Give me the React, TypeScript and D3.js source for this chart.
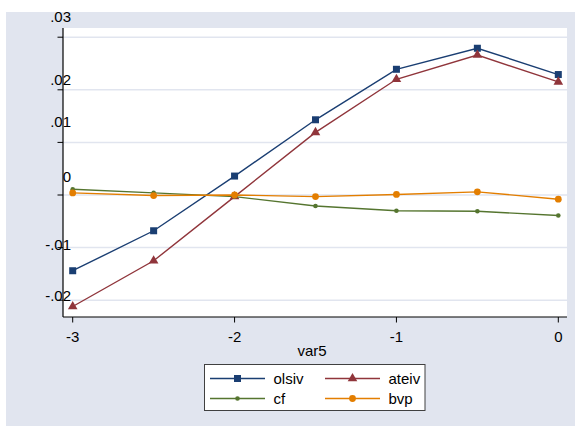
import React from "react";
import * as d3 from "d3";

// x values (var5)
const xs = [-3, -2.5, -2, -1.5, -1, -0.5, 0];

// series values
const olsiv = [-0.0144, -0.0068, 0.0036, 0.0143, 0.0239, 0.0279, 0.0229];
const ateiv = [-0.0212, -0.0125, -0.0003, 0.0119, 0.022, 0.0266, 0.0215];
const cf = [0.0011, 0.0004, -0.0003, -0.0021, -0.003, -0.0031, -0.0039];
const bvp = [0.0004, -0.0001, 0.0, -0.0003, 0.0001, 0.0006, -0.0008];

const yTicks = [-0.02, -0.01, 0, 0.01, 0.02, 0.03];
const yTickLabels = ["-.02", "-.01", "0", ".01", ".02", ".03"];
const xTicks = [-3, -2, -1, 0];

// the labels sit a little above their ticks, unevenly
const yLabelShift = [-4, -3, -18, -21, -10, -20];

const series = [
  { name: "olsiv", values: olsiv, color: "#1a3e72", marker: "square" },
  { name: "ateiv", values: ateiv, color: "#90353b", marker: "triangle" },
  { name: "cf", values: cf, color: "#55752f", marker: "smallcircle" },
  { name: "bvp", values: bvp, color: "#e37e00", marker: "circle" },
];

const W = 575;
const H = 426;
const plot = { left: 63, right: 567, top: 28, bottom: 317 };
const font = "'Liberation Sans', Arial, sans-serif";

const Marker: React.FC<{ kind: string; x: number; y: number; color: string }> = ({ kind, x, y, color }) => {
  if (kind === "square") return <rect x={x - 3.5} y={y - 3.5} width={7} height={7} fill={color} />;
  if (kind === "triangle")
    return <path d={d3.symbol(d3.symbolTriangle, 40)() || ""} transform={`translate(${x},${y})`} fill={color} />;
  if (kind === "smallcircle") return <circle cx={x} cy={y} r={2.3} fill={color} />;
  return <circle cx={x} cy={y} r={3.4} fill={color} />;
};

const App: React.FC = () => {
  const x = d3.scaleLinear().domain([-3, 0]).range([72.7, 558.3]);
  const y = d3.scaleLinear().domain([0, 0.01]).range([195, 142.4]);

  const line = d3
    .line<number>()
    .x((_, i) => x(xs[i]))
    .y(d => y(d));

  const legendCols = [210, 325];
  const legendRows = [378.5, 398.5];

  return (
    <svg width={W} height={H} style={{ position: "absolute", left: 0, top: 0 }}>
      <rect x={0} y={0} width={W} height={H} fill="#ffffff" />
      <rect x={6} y={12} width={W - 6} height={H - 12} fill="#e1e5ef" />
      <rect
        x={plot.left}
        y={plot.top}
        width={plot.right - plot.left}
        height={plot.bottom - plot.top}
        fill="#ffffff"
      />

      {/* gridlines */}
      {yTicks.map(t => (
        <line key={"g" + t} x1={plot.left} x2={plot.right} y1={y(t)} y2={y(t)} stroke="#e1e5ef" strokeWidth={1.5} />
      ))}

      {/* series */}
      {series.map(s => (
        <g key={s.name}>
          <path d={line(s.values) || ""} fill="none" stroke={s.color} strokeWidth={1.4} />
          {s.values.map((v, i) => (
            <Marker key={i} kind={s.marker} x={x(xs[i])} y={y(v)} color={s.color} />
          ))}
        </g>
      ))}

      {/* axes */}
      <line x1={plot.left} x2={plot.left} y1={plot.top} y2={plot.bottom} stroke="#000" strokeWidth={1.2} />
      <line x1={plot.left} x2={plot.right} y1={plot.bottom} y2={plot.bottom} stroke="#000" strokeWidth={1.2} />
      {yTicks.map((t, i) => (
        <g key={"y" + t}>
          <line x1={plot.left - 5.5} x2={plot.left} y1={y(t)} y2={y(t)} stroke="#000" strokeWidth={1} />
          <text
            x={71}
            y={y(t) + yLabelShift[i]}
            dy="0.35em"
            textAnchor="end"
            fontFamily={font}
            fontSize={15}
            fill="#000"
          >
            {yTickLabels[i]}
          </text>
        </g>
      ))}
      {xTicks.map(t => (
        <g key={"x" + t}>
          <line x1={x(t)} x2={x(t)} y1={plot.bottom} y2={plot.bottom + 5.5} stroke="#000" strokeWidth={1} />
          <text x={x(t)} y={341.5} textAnchor="middle" fontFamily={font} fontSize={15} fill="#000">
            {d3.format("d")(t).replace("−", "-")}
          </text>
        </g>
      ))}
      <text x={312} y={355.5} textAnchor="middle" fontFamily={font} fontSize={15} fill="#000">
        var5
      </text>

      {/* legend */}
      <rect x={204.5} y={364.5} width={220.5} height={46} fill="#ffffff" stroke="#404040" strokeWidth={1} />
      {series.map((s, i) => {
        const cx = legendCols[i % 2];
        const cy = legendRows[Math.floor(i / 2)];
        return (
          <g key={"l" + s.name}>
            <line x1={cx} x2={cx + 55} y1={cy} y2={cy} stroke={s.color} strokeWidth={1.4} />
            <Marker kind={s.marker} x={cx + 27.5} y={cy} color={s.color} />
            <text x={cx + 63.5} y={cy} dy="0.36em" fontFamily={font} fontSize={15} fill="#000">
              {s.name}
            </text>
          </g>
        );
      })}
    </svg>
  );
};

export default App;
